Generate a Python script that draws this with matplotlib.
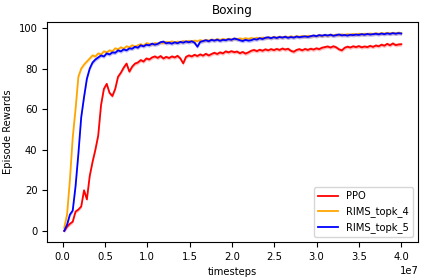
import numpy as np
import matplotlib
matplotlib.use("Agg")
import matplotlib.pyplot as plt

ppo = [0, 2, 3.5, 4.5, 9.5, 10.5, 12, 20, 15.5, 27,
       34, 40, 47, 62, 70, 72.5, 68, 66.5, 70, 76,
       78, 80.5, 82.5, 78.5, 81, 82.5, 83, 84.2, 83.5, 85,
       84.5, 85.5, 86, 85.3, 86.2, 85, 85.8, 85.2, 86, 85.5,
       86.3, 85, 82.6, 85.8, 86.5, 86, 86.8, 86.2, 87, 86.4,
       87.3, 86.5, 87.2, 87.8, 87.2, 88, 87.5, 88.5, 88, 88.6,
       88.1, 88.4, 87.6, 88.2, 87.4, 88, 88.8, 89.2, 88.6, 89.3,
       88.8, 89.5, 89, 89.6, 89.1, 89.7, 89.2, 89.9, 89.4, 89.8,
       88.8, 88.3, 89.2, 89.6, 89, 89.7, 89.2, 89.8, 89.4, 90,
       89.6, 90.3, 90.6, 90.9, 90.4, 91, 90.5, 89.5, 89, 90.3,
       90.8, 90.4, 91, 90.6, 91.1, 90.5, 90.9, 90.6, 91.2, 90.7,
       91.4, 91, 91.8, 91.3, 92.2, 91.5, 92.4, 91.6, 91.9, 92]

rims_topk_4 = [1.5, 8, 25, 46, 60, 76, 80, 82, 83.5, 85,
               86.5, 86, 87.5, 87, 88.5, 88, 89, 88.5, 90, 89.5,
               90.5, 89.8, 91, 90.5, 91.5, 90.8, 91.5, 92, 91.3, 92.5,
               92.2, 91.8, 92.6, 92.3, 93, 92.5, 93.2, 92.9, 93.4, 92.8,
               93.3, 93, 93.6, 93.2, 93.7, 93.3, 93.8, 93.5, 94, 93.6,
               94.1, 93.8, 94.3, 94, 94.5, 94.1, 94.6, 94.2, 94.7, 94.3,
               94.8, 94.4, 94.9, 94.5, 95, 94.6, 95.1, 94.7, 95.2, 94.9,
               95.3, 95, 95.4, 95.1, 95.6, 95.2, 95.7, 95.3, 95.8, 95.4,
               95.9, 95.5, 96, 95.6, 96.1, 95.7, 96.2, 95.8, 96.3, 96,
               96.5, 96.1, 96.6, 96.2, 96.7, 96.3, 96.8, 96.4, 96.9, 96.5,
               97, 96.6, 97.1, 96.7, 97.2, 96.8, 97.2, 96.9, 97.3, 97,
               97.4, 97.1, 97.5, 97.2, 97.6, 97.3, 97.6, 97.3, 97.7, 97.4]

rims_topk_5 = [0, 3, 8, 10, 22, 38, 56, 66, 75, 80,
               83, 84.5, 85.5, 86.5, 86, 87.5, 87, 88, 87.8, 89,
               88.5, 89.5, 89, 90, 89.8, 90.8, 90.3, 91.5, 91, 91.8,
               91.5, 92.3, 91.8, 92.2, 93, 93.3, 92.5, 92.8, 92.3, 93,
               92.5, 93.2, 92.8, 93.4, 93, 93.5, 92.8, 90.8, 93.2, 93.6,
               94, 93.5, 94.2, 93.8, 94.3, 93.7, 94.2, 94, 94.5, 94.2,
               94.8, 94.5, 94, 93.6, 94.2, 93.8, 94, 94.6, 94.3, 95,
               94.6, 95.2, 95.4, 95, 95.5, 95.1, 95.6, 95.3, 95.7, 95.2,
               95.6, 95.3, 95.8, 95.5, 95.7, 95.9, 95.6, 96, 96.3, 96,
               96.5, 96.2, 96.6, 96.3, 96.7, 96.2, 96.5, 96.8, 96.4, 96.6,
               96.3, 96.7, 96.5, 96.8, 96.6, 97, 96.7, 97.1, 96.8, 97,
               97.2, 96.9, 97.3, 97, 97.4, 97.1, 97.5, 97.2, 97.5, 97.3]

timesteps = np.linspace(0.02e7, 4.0e7, len(ppo))

series = [("PPO", ppo, "red"),
          ("RIMS_topk_4", rims_topk_4, "orange"),
          ("RIMS_topk_5", rims_topk_5, "blue")]

plt.rcParams["font.size"] = 7.2

fig = plt.figure(figsize=(4.24, 2.8), dpi=100)
ax = fig.add_axes([0.1115, 0.135, 0.875, 0.7865])

for name, vals, col in series:
    vals = np.array(vals)
    ax.fill_between(timesteps, vals - 0.9, vals + 0.9, color=col, alpha=0.25, lw=0)
    ax.plot(timesteps, vals, color=col, lw=1.3, label=name)

ax.set_xlim(-0.18e7, 4.2e7)
ax.set_ylim(-5.6, 103)
ax.set_yticks([0, 20, 40, 60, 80, 100])
ax.set_xlabel("timesteps")
ax.set_ylabel("Episode Rewards")
ax.set_title("Boxing", fontsize=8.64)
ax.legend(loc="lower right")

fig.savefig("out.png", dpi=100)
